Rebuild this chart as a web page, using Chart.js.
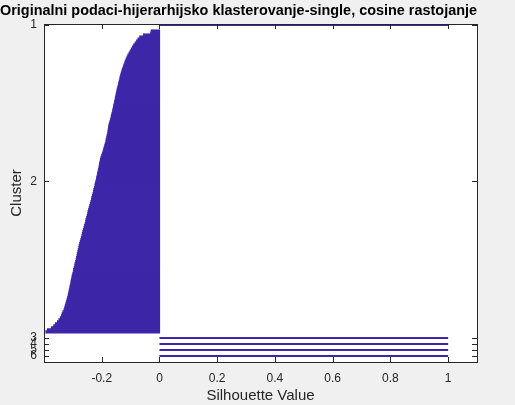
<!DOCTYPE html>
<html>
<head>
<meta charset="utf-8">
<title>Silhouette</title>
<script src="https://cdn.jsdelivr.net/npm/chart.js@4.4.1/dist/chart.umd.min.js"></script>
<style>
  html, body { margin: 0; padding: 0; background: #f0f0f0; }
  #chart { display: block; }
</style>
</head>
<body>
<canvas id="chart" width="515" height="405"></canvas>
<script>
// cluster names and silhouette values (sorted, as silhouette() draws them)
const clusterLabels = ['1', '2', '3', '4', '5', '6'];
const cluster1 = [1];
const cluster2 = [
  -0.028, -0.030, -0.055, -0.068, -0.074, -0.079, -0.084, -0.089, -0.093, -0.097,
  -0.101, -0.105, -0.109, -0.112, -0.115, -0.118, -0.120, -0.123, -0.125, -0.128,
  -0.130, -0.132, -0.134, -0.136, -0.137, -0.139, -0.141, -0.142, -0.144, -0.146,
  -0.147, -0.149, -0.150, -0.152, -0.153, -0.155, -0.156, -0.158, -0.159, -0.161,
  -0.162, -0.164, -0.166, -0.167, -0.169, -0.171, -0.173, -0.175, -0.176, -0.177,
  -0.178, -0.179, -0.181, -0.182, -0.184, -0.185, -0.187, -0.189, -0.191, -0.193,
  -0.195, -0.197, -0.200, -0.202, -0.204, -0.205, -0.207, -0.208, -0.209, -0.211,
  -0.212, -0.214, -0.215, -0.217, -0.218, -0.220, -0.222, -0.223, -0.225, -0.227,
  -0.228, -0.230, -0.232, -0.234, -0.235, -0.237, -0.239, -0.241, -0.243, -0.245,
  -0.247, -0.248, -0.250, -0.252, -0.254, -0.255, -0.257, -0.259, -0.261, -0.263,
  -0.265, -0.267, -0.268, -0.270, -0.272, -0.274, -0.276, -0.278, -0.279, -0.281,
  -0.282, -0.284, -0.285, -0.287, -0.288, -0.290, -0.292, -0.293, -0.295, -0.297,
  -0.298, -0.300, -0.302, -0.303, -0.305, -0.306, -0.307, -0.309, -0.310, -0.312,
  -0.313, -0.315, -0.316, -0.318, -0.320, -0.322, -0.324, -0.326, -0.328, -0.330,
  -0.334, -0.337, -0.339, -0.343, -0.348, -0.353, -0.360, -0.366, -0.374, -0.388, -0.393
];
const cluster3 = [1];
const cluster4 = [1];
const cluster5 = [1];
const cluster6 = [1];
const xTicks = [-0.2, 0, 0.2, 0.4, 0.6, 0.8, 1];

const clusters = [cluster1, cluster2, cluster3, cluster4, cluster5, cluster6];
const GAP = 2;           // empty rows between clusters
const BAR_COLOR = '#3e26a8';
const AXIS_COLOR = '#262626';
const FONT = "'Liberation Sans', Arial, Helvetica, sans-serif";

// lay the bars out row by row, like matlab's silhouette()
let row = 1;
const points = [];
const sizeOf = [];
const yTicks = [];
clusters.forEach(vals => {
  yTicks.push(row + (vals.length - 1) / 2);
  vals.forEach(v => { points.push({ x: v, y: row }); sizeOf.push(vals.length); row++; });
  row += GAP;
});
const yMax = row;

const boxPlugin = {
  id: 'box',
  beforeDraw(chart) {
    const { ctx, chartArea: a } = chart;
    ctx.save();
    ctx.fillStyle = '#f0f0f0';
    ctx.fillRect(0, 0, chart.width, chart.height);
    ctx.fillStyle = '#ffffff';
    ctx.fillRect(a.left, a.top, a.right - a.left, a.bottom - a.top);
    ctx.restore();
  },
  afterDraw(chart) {
    const { ctx, chartArea: a, scales } = chart;
    const len = 5;
    ctx.save();
    ctx.strokeStyle = AXIS_COLOR;
    ctx.lineWidth = 1;
    ctx.beginPath();
    scales.x.ticks.forEach(t => {
      const px = Math.round(scales.x.getPixelForValue(t.value)) + 0.5;
      ctx.moveTo(px, a.bottom); ctx.lineTo(px, a.bottom - len);
      ctx.moveTo(px, a.top); ctx.lineTo(px, a.top + len);
    });
    scales.y.ticks.forEach(t => {
      const py = Math.round(scales.y.getPixelForValue(t.value)) + 0.5;
      ctx.moveTo(a.left, py); ctx.lineTo(a.left + len, py);
      ctx.moveTo(a.right, py); ctx.lineTo(a.right - len, py);
    });
    ctx.stroke();
    ctx.strokeRect(Math.round(a.left) + 0.5, Math.round(a.top) + 0.5,
      Math.round(a.right - a.left), Math.round(a.bottom - a.top));
    ctx.restore();
  }
};

new Chart(document.getElementById('chart'), {
  type: 'bar',
  data: {
    datasets: [{
      data: points,
      backgroundColor: BAR_COLOR,
      borderWidth: 0,
      barPercentage: 1.0,
      categoryPercentage: 1.0,
      // fill the big cluster solid, keep one-point clusters thin
      inflateAmount: c => (sizeOf[c.dataIndex] > 1 ? 0.6 : 0)
    }]
  },
  plugins: [boxPlugin],
  options: {
    indexAxis: 'y',
    responsive: false,
    animation: false,
    devicePixelRatio: 1,
    layout: { padding: { top: 0, right: 38, bottom: 0, left: 0 } },
    plugins: {
      legend: { display: false },
      tooltip: { enabled: false },
      title: {
        display: true,
        text: 'Originalni podaci-hijerarhijsko klasterovanje-single, cosine rastojanje',
        color: '#000000',
        font: { family: FONT, size: 15, weight: 'bold' },
        padding: { top: 2, bottom: 4 }
      }
    },
    scales: {
      x: {
        type: 'linear',
        min: -0.4,
        max: 1.1,
        grid: { display: false, drawTicks: false },
        border: { display: false },
        afterBuildTicks(scale) { scale.ticks = xTicks.map(v => ({ value: v })); },
        afterFit(scale) { scale.height = 43; },
        ticks: {
          autoSkip: false,
          maxRotation: 0,
          padding: 9,
          color: AXIS_COLOR,
          font: { family: FONT, size: 12 },
          callback: v => String(v)
        },
        title: {
          display: true,
          text: 'Silhouette Value',
          color: AXIS_COLOR,
          font: { family: FONT, size: 15 },
          padding: { top: 0, bottom: 0 }
        }
      },
      y: {
        type: 'linear',
        reverse: true,
        offset: false,
        min: 0.5,
        max: yMax,
        grid: { display: false, drawTicks: false },
        border: { display: false },
        afterBuildTicks(scale) { scale.ticks = yTicks.map(v => ({ value: v })); },
        afterFit(scale) { scale.width = 44; },
        ticks: {
          autoSkip: false,
          padding: 7,
          color: AXIS_COLOR,
          font: { family: FONT, size: 12 },
          callback: (v, i) => clusterLabels[i]
        },
        title: {
          display: true,
          text: 'Cluster',
          color: AXIS_COLOR,
          font: { family: FONT, size: 15 },
          padding: { top: 8, bottom: 0 }
        }
      }
    }
  }
});
</script>
</body>
</html>
